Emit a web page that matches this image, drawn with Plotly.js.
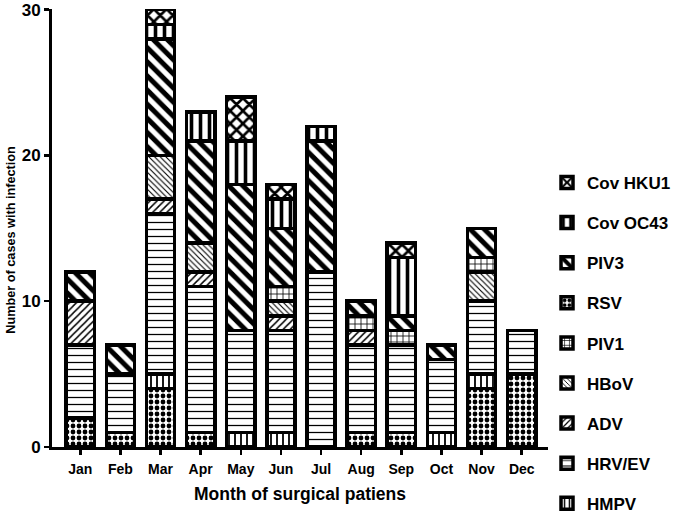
<!DOCTYPE html>
<html>
<head>
<meta charset="utf-8">
<script src="https://cdn.plot.ly/plotly-3.0.1.min.js"></script>
<style>html,body{margin:0;padding:0;background:#fff;}#chart{width:685px;height:530px;}</style>
</head>
<body>
<div id="chart"></div>
<script>
// Data
var months = ["Jan","Feb","Mar","Apr","May","Jun","Jul","Aug","Sep","Oct","Nov","Dec"];
var rsv    = [2,1,4,1,0,0,0,1,1,0,4,5];
var hmpv   = [0,0,1,0,1,1,0,0,0,1,1,0];
var hrvev  = [5,4,11,10,7,7,12,6,6,5,5,3];
var adv    = [3,0,1,1,0,1,0,1,0,0,0,0];
var hbov   = [0,0,3,2,0,1,0,0,0,0,2,0];
var piv1   = [0,0,0,0,0,1,0,1,1,0,1,0];
var piv3   = [2,2,8,7,10,4,9,1,1,1,2,0];
var covoc43= [0,0,1,2,3,2,1,0,4,0,0,0];
var covhku1= [0,0,1,0,3,1,0,0,1,0,0,0];
var yTicks = [0,10,20,30];

var series = [
  {name:"RSV",      y:rsv,     shape:".",  size:6,  sol:0.5,  rank:4},
  {name:"HMPV",     y:hmpv,    shape:"|",  size:6,  sol:0.3,  rank:9},
  {name:"HRV/EV",   y:hrvev,   shape:"-",  size:7,  sol:0.18, rank:8},
  {name:"ADV",      y:adv,     shape:"/",  size:5,  sol:0.3,  rank:7},
  {name:"HBoV",     y:hbov,    shape:"\\", size:4,  sol:0.28, rank:6},
  {name:"PIV1",     y:piv1,    shape:"+",  size:6,  sol:0.25, rank:5},
  {name:"PIV3",     y:piv3,    shape:"\\", size:10, sol:0.5,  rank:3},
  {name:"Cov OC43", y:covoc43, shape:"|",  size:9,  sol:0.4,  rank:2},
  {name:"Cov HKU1", y:covhku1, shape:"x",  size:9,  sol:0.5,  rank:1}
];

var traces = series.map(function(s){
  return {
    type:"bar", x:months, y:s.y, name:s.name,
    legendrank:s.rank, legendgroup:s.name,
    width:0.705,
    marker:{color:"#ffffff", line:{color:"#000000", width:3.5},
      pattern:{shape:s.shape, size:s.size, solidity:s.sol, fgcolor:"#000000", bgcolor:"#ffffff", fillmode:"replace"}}
  };
});

var font = "Liberation Sans, Arial, sans-serif";
var layout = {
  width:685, height:530,
  margin:{l:52, r:125, t:9, b:57},
  barmode:"stack",
  paper_bgcolor:"#fff", plot_bgcolor:"#fff",
  font:{family:font, color:"#000"},
  showlegend:true,
  legend:{x:0.998, y:0.644, yanchor:"top", xanchor:"left", tracegroupgap:15,
    font:{family:font, size:17, weight:"bold", color:"#000"}, itemwidth:30, bgcolor:"rgba(0,0,0,0)"},
  xaxis:{range:[-0.705,11.655], showline:true, linecolor:"#000", linewidth:3,
    ticks:"outside", ticklen:5, tickwidth:2.5, tickcolor:"#000", ticklabelstandoff:2,
    tickfont:{family:font, size:14, weight:"bold"}, showgrid:false, zeroline:false, automargin:false,
    title:{text:"Month of surgical patiens", font:{family:font, size:17.5, weight:"bold"}, standoff:12}},
  yaxis:{range:[0,30.05], tickvals:yTicks, showline:true, linecolor:"#000", linewidth:3,
    ticks:"outside", ticklen:5, tickwidth:2.5, tickcolor:"#000",
    tickfont:{family:font, size:17, weight:"bold"}, showgrid:false, zeroline:false, automargin:false},
  annotations:[{text:"Number of cases with infection", textangle:-90, xref:"paper", yref:"paper",
    x:-0.083, y:0.473, xanchor:"center", yanchor:"middle", showarrow:false,
    font:{family:font, size:12.7, weight:"bold", color:"#000"}}]
};

Plotly.newPlot("chart", traces, layout, {staticPlot:true, displayModeBar:false});
</script>
</body>
</html>
